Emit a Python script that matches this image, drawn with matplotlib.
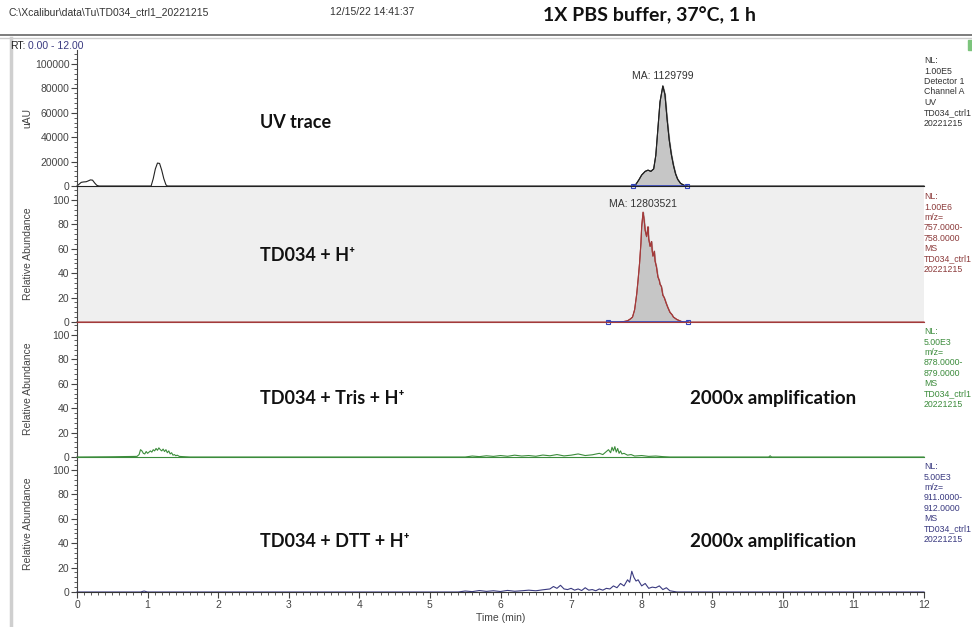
import matplotlib
matplotlib.use('Agg')
import matplotlib.pyplot as plt
from matplotlib.ticker import MultipleLocator
from matplotlib.lines import Line2D
from matplotlib.patches import Rectangle

plt.rcParams['font.family'] = ['Liberation Sans', 'DejaVu Sans']

# UV trace (uAU)
uv_t = [0.00, 0.03, 0.06, 0.09, 0.13, 0.16, 0.19, 0.22, 0.25, 0.28, 0.31,
        1.05, 1.08, 1.11, 1.14, 1.17, 1.20, 1.23, 1.26, 1.28,
        7.88, 7.92, 7.96, 8.00, 8.05, 8.09, 8.13, 8.17, 8.20, 8.23, 8.26, 8.30,
        8.33, 8.36, 8.39, 8.42, 8.45, 8.48, 8.51, 8.55, 8.60, 8.64, 12.00]
uv_v = [0, 1500, 3000, 3300, 3500, 4200, 5000, 4800, 2500, 600, 0,
        0, 6000, 14000, 18800, 18500, 13000, 6000, 1000, 0,
        0, 1500, 5000, 9000, 12000, 13000, 12000, 14000, 25000, 47000, 69000, 82000,
        75000, 55000, 38000, 26000, 17000, 10000, 5500, 2200, 600, 0, 0]
uv_fill = (7.88, 8.64)

# TD034 + H+ (m/z 757-758)
ms_t = [0.00, 7.70, 7.76, 7.80, 7.84, 7.87, 7.90, 7.93, 7.95, 7.97, 7.99, 8.00, 8.02,
        8.03, 8.04, 8.05, 8.07, 8.08, 8.09, 8.10, 8.12, 8.13, 8.14, 8.15, 8.16,
        8.18, 8.19, 8.21, 8.23, 8.25, 8.26, 8.28, 8.30, 8.32, 8.35, 8.37, 8.40,
        8.43, 8.45, 8.50, 8.54, 8.58, 12.00]
ms_v = [0, 0, 0.5, 1, 2.5, 4, 10, 23, 35, 48, 65, 78, 90,
        86, 81, 75, 70, 74, 78, 68, 62, 64, 66, 58, 54,
        58, 50, 45, 37, 34, 31, 29, 22, 20, 15, 12, 8,
        6, 4, 2, 1, 0, 0]
ms_fill = (7.52, 8.65)

# TD034 + Tris + H+ (m/z 878-879)
tris_t = [0.00, 0.50, 0.85, 0.88, 0.90, 0.92, 0.94, 0.96, 0.98, 1.00, 1.02, 1.04,
          1.06, 1.08, 1.10, 1.12, 1.14, 1.16, 1.18, 1.20, 1.22, 1.24, 1.26, 1.28,
          1.30, 1.32, 1.34, 1.36, 1.38, 1.40, 1.42, 1.45, 1.50, 1.60, 5.50, 5.60,
          5.70, 5.80, 5.90, 6.00, 6.10, 6.20, 6.30, 6.40, 6.50, 6.60, 6.70, 6.80,
          6.90, 7.00, 7.10, 7.20, 7.30, 7.40, 7.45, 7.50, 7.53, 7.56, 7.58, 7.60,
          7.62, 7.64, 7.66, 7.68, 7.70, 7.72, 7.75, 7.80, 7.85, 7.90, 8.00, 8.10,
          8.20, 8.30, 8.40, 9.80, 9.82, 9.84, 12.00]
tris_v = [0, 0.2, 0.5, 2, 6, 5, 3, 2.5, 4.5, 3, 4, 5,
          4, 6, 5, 7, 5.5, 7.5, 6, 5, 6.5, 4.5, 6, 3.5,
          5, 2.5, 3.5, 1.5, 2, 1, 1.5, 0.5, 0.3, 0, 0, 0.8,
          0.3, 1, 0.5, 1.2, 0.6, 1.5, 0.8, 1.2, 0.6, 1.6, 1.0, 2.0,
          0.9, 1.5, 2.5, 1.2, 1.8, 3.0, 2.0, 4.5, 6, 3.5, 8, 5,
          8.5, 4, 7, 3, 5, 2.5, 3, 1.5, 2, 0.8, 1.2, 0.5,
          0.8, 0.3, 0, 0, 1.0, 0, 0]

# TD034 + DTT + H+ (m/z 911-912)
dtt_t = [0.00, 0.90, 0.95, 1.00, 5.40, 5.50, 5.60, 5.70, 5.80, 5.90, 6.00, 6.10,
         6.20, 6.30, 6.40, 6.50, 6.60, 6.70, 6.75, 6.80, 6.85, 6.90, 6.95, 7.00,
         7.05, 7.10, 7.15, 7.20, 7.25, 7.30, 7.35, 7.40, 7.45, 7.50, 7.55, 7.60,
         7.65, 7.70, 7.75, 7.80, 7.83, 7.86, 7.89, 7.92, 7.95, 8.00, 8.05, 8.10,
         8.15, 8.20, 8.25, 8.30, 8.35, 8.40, 8.50, 12.00]
dtt_v = [0, 0, 0.8, 0, 0, 0.8, 0.3, 1.2, 0.5, 1.0, 0.4, 1.3,
         0.6, 1.0, 1.5, 1.0, 1.8, 2.5, 4.5, 3.0, 5.5, 2.5, 2.0, 3.0,
         1.5, 2.5, 1.2, 3.5, 1.5, 2.0, 1.0, 2.5, 1.5, 3.0, 2.5, 5.0,
         3.5, 7.0, 5.0, 10, 8, 17, 12, 9, 10, 5, 7, 3,
         4, 3.5, 5, 2, 3.5, 1, 0, 0]

panel_names = ['UV trace', 'TD034 + H\u207a', 'TD034 + Tris + H\u207a', 'TD034 + DTT + H\u207a']
name_y = [0.47, 0.49, 0.43, 0.37]
side_labels = [
    ['NL:', '1.00E5', 'Detector 1', 'Channel A', 'UV', 'TD034_ctrl1', '20221215'],
    ['NL:', '1.00E6', 'm/z=', '757.0000-', '758.0000', 'MS', 'TD034_ctrl1', '20221215'],
    ['NL:', '5.00E3', 'm/z=', '878.0000-', '879.0000', 'MS', 'TD034_ctrl1', '20221215'],
    ['NL:', '5.00E3', 'm/z=', '911.0000-', '912.0000', 'MS', 'TD034_ctrl1', '20221215'],
]
trace_colors = ['#222222', '#a33a3a', '#3c8c3c', '#3a3a80']
label_colors = ['#333333', '#8c3b3b', '#3c8c3c', '#3a3a80']

fig = plt.figure(figsize=(9.72, 6.27), dpi=100)

# frame decorations of the Xcalibur export
fig.add_artist(Line2D([0, 1], [1 - 35/627, 1 - 35/627], color='#666666', lw=1.2))
fig.add_artist(Line2D([0, 1], [1 - 38/627, 1 - 38/627], color='#cccccc', lw=1.0))
fig.add_artist(Line2D([11/972, 11/972], [0, 1 - 38/627], color='#cfcfcf', lw=2.5))
fig.add_artist(Rectangle((968/972, 1 - 50/627), 4/972, 10/627, color='#7cc47c'))

fig.text(8/972, 1 - 12/627, r'C:\Xcalibur\data\Tu\TD034_ctrl1_20221215', fontsize=7.5,
         color='#333333', va='center')
fig.text(330/972, 1 - 12/627, '12/15/22 14:41:37', fontsize=7.5, color='#333333', va='center')
fig.text(649/972, 1 - 15/627, '1X PBS buffer, 37\u00b0C, 1 h', fontsize=14, fontweight='bold',
         family=['Lato', 'DejaVu Sans'], ha='center', va='center', color='#111111')
fig.text(10/972, 1 - 46/627, 'RT:', fontsize=7.5, color='#222222', va='center')
fig.text(28/972, 1 - 46/627, '0.00 - 12.00', fontsize=7.5, color='#3a3a80', va='center')

left, width = 77/972, 847/972
bottoms = [186, 322, 457, 592]
height = 136/627

axes = []
for i, b in enumerate(bottoms):
    ax = fig.add_axes([left, 1 - b/627, width, height])
    axes.append(ax)
    ax.set_zorder(10 - i)
    if i != 1:
        ax.patch.set_alpha(0)
    ax.set_xlim(0, 12)
    for s in ['top', 'right']:
        ax.spines[s].set_visible(False)
    ax.spines['left'].set_color('#444444')
    ax.spines['bottom'].set_color(trace_colors[i])
    ax.tick_params(axis='y', which='major', length=4, width=0.8, labelsize=7.5,
                   colors='#444444', pad=1.5)
    ax.tick_params(axis='y', which='minor', length=2, width=0.6, colors='#444444')
    ax.text(1.0, 0.955, '\n'.join(side_labels[i]), transform=ax.transAxes, ha='left', va='top',
            fontsize=6.3, color=label_colors[i], linespacing=1.2, clip_on=False)
    ax.text(183/847, name_y[i], panel_names[i], transform=ax.transAxes, fontsize=13,
            fontweight='bold', family=['Lato', 'DejaVu Sans'], color='#111111', va='center')
    if i < 3:
        ax.tick_params(axis='x', which='both', bottom=False, labelbottom=False)

# UV panel
ax = axes[0]
ax.set_ylim(0, 111500)
ax.yaxis.set_major_locator(MultipleLocator(20000))
ax.yaxis.set_minor_locator(MultipleLocator(4000))
ax.plot(uv_t, uv_v, color=trace_colors[0], lw=0.8, clip_on=False)
sel = [j for j, t in enumerate(uv_t) if uv_fill[0] <= t <= uv_fill[1]]
ax.fill_between([uv_t[j] for j in sel], [uv_v[j] for j in sel], color='#c6c6c6')
ax.plot([uv_t[j] for j in sel], [uv_v[j] for j in sel], color=trace_colors[0], lw=0.8)
ax.plot(uv_fill, [400, 400], color='#3344bb', lw=1.2, marker='s', ms=3, mfc='none', mew=0.8,
        clip_on=False)
ax.set_ylabel('uAU', fontsize=7.5, color='#444444', labelpad=2)
ax.text(8.30, 86000, 'MA: 1129799', fontsize=7.5, color='#333333', ha='center', va='bottom')

# MS panels
ms_sets = [(ms_t, ms_v), (tris_t, tris_v), (dtt_t, dtt_v)]
for i, (t, v) in enumerate(ms_sets, start=1):
    ax = axes[i]
    ax.set_ylim(0, 111.5)
    ax.yaxis.set_major_locator(MultipleLocator(20))
    ax.yaxis.set_minor_locator(MultipleLocator(4))
    ax.plot(t, v, color=trace_colors[i], lw=0.8, clip_on=False)
    ax.set_ylabel('Relative Abundance', fontsize=7.5, color='#444444', labelpad=14)

ax = axes[1]
ax.set_facecolor('#efefef')
sel = [j for j, t in enumerate(ms_t) if ms_fill[0] <= t <= ms_fill[1]]
ax.fill_between([ms_t[j] for j in sel], [ms_v[j] for j in sel], color='#c6c6c6')
ax.plot([ms_t[j] for j in sel], [ms_v[j] for j in sel], color=trace_colors[1], lw=0.8)
ax.plot(ms_fill, [0.4, 0.4], color='#3344bb', lw=1.2, marker='s', ms=3, mfc='none', mew=0.8,
        clip_on=False)
ax.text(8.02, 93, 'MA: 12803521', fontsize=7.5, color='#333333', ha='center', va='bottom')

for ax, y in zip(axes[2:], name_y[2:]):
    ax.text(613/847, y, '2000x amplification', transform=ax.transAxes, fontsize=13.5,
            fontweight='bold', family=['Lato', 'DejaVu Sans'], color='#111111', va='center')

# bottom time axis
ax = axes[3]
ax.spines['bottom'].set_color('#333333')
ax.xaxis.set_major_locator(MultipleLocator(1))
ax.xaxis.set_minor_locator(MultipleLocator(0.1))
ax.tick_params(axis='x', which='major', length=4, width=0.8, labelsize=7.5, colors='#444444', pad=2)
ax.tick_params(axis='x', which='minor', length=2, width=0.6, colors='#444444')
ax.set_xlabel('Time (min)', fontsize=7.5, color='#444444', labelpad=2)

fig.savefig('out.png', dpi=100)
